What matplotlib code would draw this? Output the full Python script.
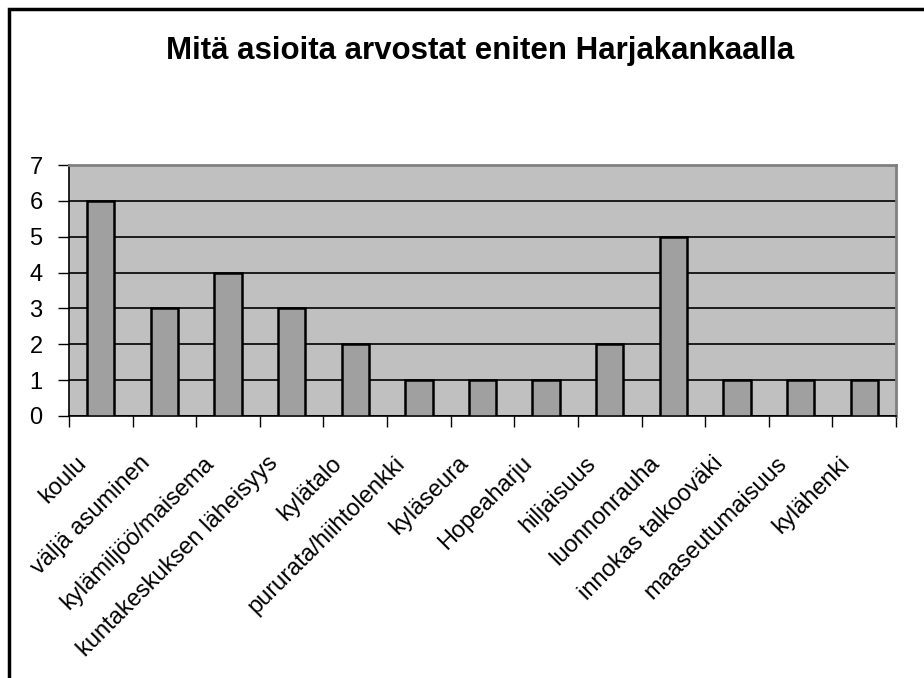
import matplotlib.pyplot as plt
import numpy as np
from matplotlib.patches import Rectangle
from matplotlib.transforms import ScaledTranslation

plt.rcParams["font.family"] = ["Liberation Sans", "DejaVu Sans"]

categories = [
    "koulu", "väljä asuminen", "kylämiljöö/maisema", "kuntakeskuksen läheisyys",
    "kylätalo", "pururata/hiihtolenkki", "kyläseura", "Hopeaharju", "hiljaisuus",
    "luonnonrauha", "innokas talkooväki", "maaseutumaisuus", "kylähenki",
]
counts = [6, 3, 4, 3, 2, 1, 1, 1, 2, 5, 1, 1, 1]
title = "Mitä asioita arvostat eniten Harjakankaalla"

W, H = 924, 678
fig = plt.figure(figsize=(W / 100, H / 100), dpi=100)
ax = fig.add_axes([69 / W, 1 - 416 / H, (896 - 69) / W, (416 - 165) / H])

x = np.arange(len(categories))
ax.set_facecolor("#c0c0c0")
ax.bar(x, counts, width=0.43, color="#a0a0a0", edgecolor="black", linewidth=1.8, zorder=3)

ax.set_xlim(-0.5, len(categories) - 0.5)
ax.set_ylim(0, 7)
ax.set_yticks(range(0, 8))
ax.yaxis.grid(True, color="black", linewidth=1.2, zorder=1)
ax.set_axisbelow(True)

# tick marks between categories, labels at category centres
ax.set_xticks(np.arange(-0.5, len(categories)), minor=False)
ax.set_xticklabels([])
ax.set_xticks(x, minor=True)
ax.set_xticklabels(categories, minor=True, rotation=45, ha="right",
                   rotation_mode="anchor", fontsize=17)
ax.tick_params(axis="x", which="minor", length=0, pad=26)
ax.tick_params(axis="x", which="major", length=8, width=1, direction="out")
ax.tick_params(axis="y", length=8, width=1, labelsize=17, pad=11)

shift = ScaledTranslation(-18 / 72, 0, fig.dpi_scale_trans)
for lab in ax.get_xticklabels(minor=True):
    lab.set_transform(lab.get_transform() + shift)

for s in ["left", "bottom"]:
    ax.spines[s].set_color("black")
    ax.spines[s].set_linewidth(1.2)
for s in ["top", "right"]:
    ax.spines[s].set_color("#808080")
    ax.spines[s].set_linewidth(2)

fig.text(480 / W, 1 - 51 / H, title, ha="center", va="center",
         fontsize=22.5, fontweight="bold")

# chart frame, left and top edges
fig.add_artist(Rectangle((9 / W, -0.1), 1.2, 1.1 - 9 / H, transform=fig.transFigure,
                         fill=False, edgecolor="black", linewidth=2.5))

fig.savefig("out.png", dpi=100)
